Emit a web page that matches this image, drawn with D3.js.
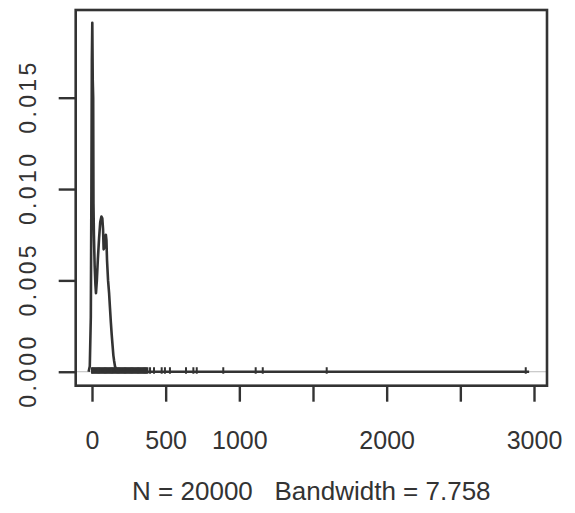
<!DOCTYPE html>
<html>
<head>
<meta charset="utf-8">
<script src="https://cdn.jsdelivr.net/npm/d3@7"></script>
<style>
  html, body { margin: 0; padding: 0; background: #fff; }
  svg { display: block; }
  text { font-family: "Liberation Sans", Arial, sans-serif; fill: #333; }
</style>
</head>
<body>
<svg id="chart" width="575" height="513"></svg>
<script>
// ---- data ----
const densityX = [-23, -15, -8, -4, -1, 2, 5, 8, 10, 13, 18, 23, 27, 33, 40, 48, 56, 64, 70, 75, 79, 84, 89, 94, 98, 102, 109, 116, 122, 128, 134, 140, 145, 150, 156, 163, 170, 185, 210, 300, 600, 1000, 1500, 2000, 2500, 2967];
const densityY = [0, 0.0003, 0.0030, 0.0100, 0.0170, 0.0191, 0.0160, 0.0150, 0.0092, 0.0075, 0.0058, 0.0048, 0.0043, 0.0050, 0.0062, 0.0073, 0.0082, 0.0085, 0.0084, 0.0078, 0.0067, 0.0068, 0.0073, 0.0075, 0.0072, 0.0061, 0.0050, 0.0043, 0.0035, 0.0027, 0.0020, 0.0014, 0.0009, 0.0006, 0.0003, 0.00015, 0.00006, 0.00001, 0, 0, 0, 0, 0, 0, 0, 0];
const rugValues = [0, 8, 16, 24, 32, 40, 48, 56, 64, 72, 80, 88, 96, 104, 112, 120, 128, 136, 144, 152, 160, 168, 176, 184, 192, 200, 208, 216, 224, 232, 240, 248, 256, 264, 272, 280, 288, 296, 304, 312, 320, 328, 336, 344, 352, 360, 368, 376, 394, 421, 473, 495, 529, 638, 688, 711, 891, 1111, 1159, 1593, 2944];
const xTicks = [0, 500, 1000, 1500, 2000, 2500, 3000];
const xTickLabels = ["0", "500", "1000", "", "2000", "", "3000"];
const yTicks = [0, 0.005, 0.010, 0.015];
const yTickLabels = ["0.000", "0.005", "0.010", "0.015"];
const subtitle = "N = 20000   Bandwidth = 7.758";

// ---- layout ----
const box = { left: 75.7, right: 547, top: 10, bottom: 385.7 };
const ink = "#333";

const svg = d3.select("#chart");

const x = d3.scaleLinear().domain([0, 3000]).range([92, 534]);
const y = d3.scaleLinear().domain([-0.000764, 0.0198]).range([box.bottom, box.top]);

// zero reference line
svg.append("line")
  .attr("x1", box.left).attr("x2", box.right)
  .attr("y1", y(0)).attr("y2", y(0))
  .attr("stroke", "#bbb").attr("stroke-width", 1);

// rug
svg.append("g").selectAll("line").data(rugValues).join("line")
  .attr("x1", d => x(d)).attr("x2", d => x(d))
  .attr("y1", y(0) - 4.5).attr("y2", y(0) + 2)
  .attr("stroke", ink).attr("stroke-width", 2);

// density curve
const pts = densityX.map((d, i) => [d, densityY[i]]);
svg.append("path")
  .datum(pts)
  .attr("d", d3.line().x(d => x(d[0])).y(d => y(d[1])))
  .attr("fill", "none").attr("stroke", ink).attr("stroke-width", 2.6)
  .attr("stroke-linejoin", "round");

// box
svg.append("rect")
  .attr("x", box.left).attr("y", box.top)
  .attr("width", box.right - box.left).attr("height", box.bottom - box.top)
  .attr("fill", "none").attr("stroke", ink).attr("stroke-width", 2.6);

// x axis
const xAxis = d3.axisBottom(x).tickValues(xTicks)
  .tickFormat((d, i) => xTickLabels[i]).tickSize(16).tickPadding(30);
const gx = svg.append("g").attr("transform", `translate(0,${box.bottom})`).call(xAxis);
gx.select(".domain").remove();
gx.selectAll(".tick line").attr("stroke", ink).attr("stroke-width", 2.4);
gx.selectAll(".tick text").attr("font-size", 25).attr("fill", ink)
  .style("font-family", "'Liberation Sans', Arial, sans-serif");

// y axis
const yAxis = d3.axisLeft(y).tickValues(yTicks)
  .tickFormat((d, i) => yTickLabels[i]).tickSize(17).tickPadding(0);
const gy = svg.append("g").attr("transform", `translate(${box.left},0)`).call(yAxis);
gy.select(".domain").remove();
gy.selectAll(".tick line").attr("stroke", ink).attr("stroke-width", 2.4);
gy.selectAll(".tick text").remove();
gy.selectAll(".tick").append("text")
  .attr("transform", "translate(-40,0) rotate(-90)")
  .attr("text-anchor", "middle")
  .attr("font-size", 23)
  .attr("textLength", 71).attr("lengthAdjust", "spacing")
  .attr("fill", ink)
  .text((d, i) => yTickLabels[i]);

// subtitle
svg.append("text")
  .attr("x", (box.left + box.right) / 2).attr("y", 500)
  .attr("text-anchor", "middle").attr("font-size", 26)
  .style("white-space", "pre")
  .text(subtitle);
</script>
</body>
</html>
